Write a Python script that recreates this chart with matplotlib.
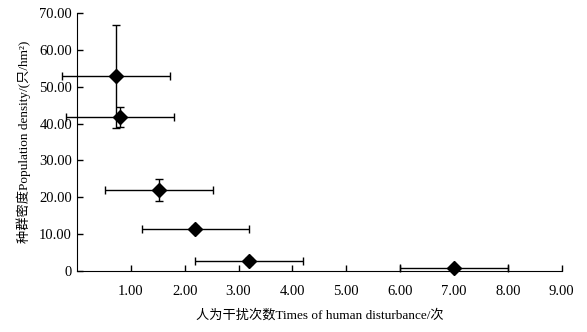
import matplotlib.pyplot as plt

plt.rcParams["font.family"] = ["Liberation Serif", "Noto Sans CJK SC"]

disturbance = [0.72, 0.80, 1.52, 2.20, 3.20, 7.00]
disturbance_err = [1.00, 1.00, 1.00, 1.00, 1.00, 1.00]
density = [52.8, 41.8, 22.0, 11.5, 2.8, 0.8]
density_err = [13.9, 2.7, 3.0, 0.8, 0.8, 0.5]

x_ticks = [1, 2, 3, 4, 5, 6, 7, 8, 9]
y_ticks = [0, 10, 20, 30, 40, 50, 60, 70]

fig = plt.figure(figsize=(5.87, 3.32), dpi=100)
ax = fig.add_axes([0.131, 0.184, 0.826, 0.777])

ax.errorbar(
    disturbance,
    density,
    xerr=disturbance_err,
    yerr=density_err,
    fmt="D",
    color="black",
    markersize=7,
    elinewidth=1,
    capsize=3,
    capthick=1,
    clip_on=False,
)

ax.set_xlim(0, 9)
ax.set_ylim(0, 70)
ax.set_xticks(x_ticks)
ax.set_xticklabels([f"{t:.2f}" for t in x_ticks])
ax.set_yticks(y_ticks)
ax.set_yticklabels(["0"] + [f"{t:.2f}" for t in y_ticks[1:]])

ax.spines["top"].set_visible(False)
ax.spines["right"].set_visible(False)
ax.tick_params(direction="in", length=4, width=1, labelsize=10.5)
ax.tick_params(axis="x", pad=10)
ax.tick_params(axis="y", pad=3.5)

ax.set_xlabel("人为干扰次数Times of human disturbance/次", fontsize=9.5, labelpad=8)
ax.set_ylabel("种群密度Population density/(只/hm²)", fontsize=9.5, labelpad=6)

fig.savefig("out.png", dpi=100)
